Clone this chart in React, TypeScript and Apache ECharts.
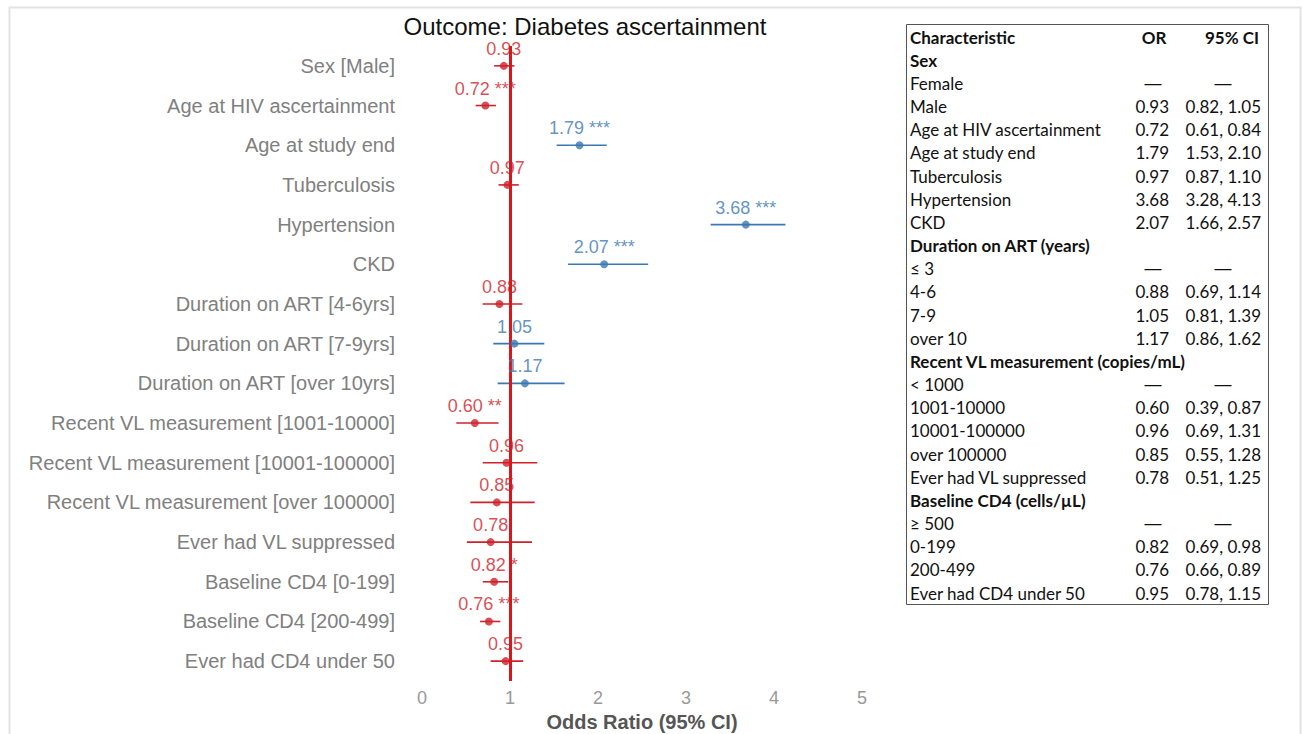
import React, { useEffect, useRef } from "react";
import * as echarts from "echarts";

const categories = [
  "Sex [Male]",
  "Age at HIV ascertainment",
  "Age at study end",
  "Tuberculosis",
  "Hypertension",
  "CKD",
  "Duration on ART [4-6yrs]",
  "Duration on ART [7-9yrs]",
  "Duration on ART [over 10yrs]",
  "Recent VL measurement [1001-10000]",
  "Recent VL measurement [10001-100000]",
  "Recent VL measurement [over 100000]",
  "Ever had VL suppressed",
  "Baseline CD4 [0-199]",
  "Baseline CD4 [200-499]",
  "Ever had CD4 under 50",
];
const oddsRatios = [0.93, 0.72, 1.79, 0.97, 3.68, 2.07, 0.88, 1.05, 1.17, 0.6, 0.96, 0.85, 0.78, 0.82, 0.76, 0.95];
const ciLow = [0.82, 0.61, 1.53, 0.87, 3.28, 1.66, 0.69, 0.81, 0.86, 0.39, 0.69, 0.55, 0.51, 0.69, 0.66, 0.78];
const ciHigh = [1.05, 0.84, 2.1, 1.1, 4.13, 2.57, 1.14, 1.39, 1.62, 0.87, 1.31, 1.28, 1.25, 0.98, 0.89, 1.15];
const stars = ["", "***", "***", "", "***", "***", "", "", "", "**", "", "", "", "*", "***", ""];
const xTicks = [0, 1, 2, 3, 4, 5];

const tableHeader = ["Characteristic", "OR", "95% CI"];
const tableChar = [
  "Sex", "Female", "Male", "Age at HIV ascertainment", "Age at study end", "Tuberculosis",
  "Hypertension", "CKD", "Duration on ART (years)", "≤ 3", "4-6", "7-9", "over 10",
  "Recent VL measurement (copies/mL)", "< 1000", "1001-10000", "10001-100000", "over 100000",
  "Ever had VL suppressed", "Baseline CD4 (cells/µL)", "≥ 500", "0-199", "200-499", "Ever had CD4 under 50",
];
const tableOR = [
  "", "—", "0.93", "0.72", "1.79", "0.97", "3.68", "2.07", "", "—", "0.88", "1.05", "1.17",
  "", "—", "0.60", "0.96", "0.85", "0.78", "", "—", "0.82", "0.76", "0.95",
];
const tableCI = [
  "", "—", "0.82, 1.05", "0.61, 0.84", "1.53, 2.10", "0.87, 1.10", "3.28, 4.13", "1.66, 2.57", "", "—",
  "0.69, 1.14", "0.81, 1.39", "0.86, 1.62", "", "—", "0.39, 0.87", "0.69, 1.31", "0.55, 1.28",
  "0.51, 1.25", "", "—", "0.69, 0.98", "0.66, 0.89", "0.78, 1.15",
];
const tableBold = [
  true, false, false, false, false, false, false, false, true, false, false, false, false,
  true, false, false, false, false, false, true, false, false, false, false,
];

const RED = "#cd222a";
const BLUE = "#3a78b2";
const SANS = "'Liberation Sans', Arial, sans-serif";

export default function App() {
  const ref = useRef<HTMLDivElement>(null);

  useEffect(() => {
    document.body.style.margin = "0";
    if (!ref.current) return;
    const chart = echarts.init(ref.current, undefined, { renderer: "svg" });

    const colorOf = (v: number) => (v > 1 ? BLUE : RED);

    const scatterData = oddsRatios.map((v, i) => {
      const c = colorOf(v);
      return {
        value: [v, categories[i]],
        itemStyle: { color: c },
        label: {
          show: true,
          position: "top",
          distance: 4,
          formatter: stars[i] ? `${v.toFixed(2)} ${stars[i]}` : v.toFixed(2),
          color: c,
          fontSize: 18,
          fontFamily: SANS,
        },
      };
    });

    const barData = oddsRatios.map((v, i) => ({
      value: [ciLow[i], ciHigh[i], i],
      color: colorOf(v),
    }));

    const tableTop = 37;
    const rowH = 23.17;
    const tableFont = "Lato, 'Open Sans', sans-serif";
    const fs = 17;
    const ink = "#111";
    const tableElems: any[] = [];
    tableElems.push({
      type: "rect",
      shape: { x: 906.5, y: 24.5, width: 362, height: 580 },
      style: { fill: "none", stroke: "#555", lineWidth: 1 },
    });
    tableElems.push({
      type: "text", x: 910, y: tableTop,
      style: { text: tableHeader[0], fontSize: fs, fontWeight: "bold", fontFamily: tableFont, fill: ink, verticalAlign: "middle", align: "left" },
    });
    tableElems.push({
      type: "text", x: 1154, y: tableTop,
      style: { text: tableHeader[1], fontSize: fs, fontWeight: "bold", fontFamily: tableFont, fill: ink, verticalAlign: "middle", align: "center" },
    });
    tableElems.push({
      type: "text", x: 1232, y: tableTop,
      style: { text: tableHeader[2], fontSize: fs, fontWeight: "bold", fontFamily: tableFont, fill: ink, verticalAlign: "middle", align: "center" },
    });
    tableChar.forEach((t, k) => {
      const y = tableTop + (k + 1) * rowH;
      tableElems.push({
        type: "text", x: 910, y,
        style: { text: t, fontSize: fs, fontWeight: tableBold[k] ? "bold" : "normal", fontFamily: tableFont, fill: ink, verticalAlign: "middle", align: "left" },
      });
      if (tableOR[k]) {
        const dash = tableOR[k] === "—";
        tableElems.push({
          type: "text", x: dash ? 1153 : 1169, y,
          style: { text: tableOR[k], fontSize: fs, fontFamily: dash ? SANS : tableFont, fill: ink, verticalAlign: "middle", align: dash ? "center" : "right" },
        });
      }
      if (tableCI[k]) {
        const dash = tableCI[k] === "—";
        tableElems.push({
          type: "text", x: dash ? 1223 : 1261, y,
          style: { text: tableCI[k], fontSize: fs, fontFamily: dash ? SANS : tableFont, fill: ink, verticalAlign: "middle", align: dash ? "center" : "right" },
        });
      }
    });

    const option: any = {
      animation: false,
      backgroundColor: "#fff",
      title: {
        text: "Outcome: Diabetes ascertainment",
        left: 580,
        top: 9,
        textAlign: "center",
        textStyle: { fontSize: 24, fontWeight: "normal", color: "#111", fontFamily: SANS },
      },
      grid: { left: 422, right: 441, top: 46, bottom: 53, containLabel: false, outerBoundsMode: "none" },
      xAxis: {
        type: "value",
        min: 0,
        max: 5,
        interval: 1,
        axisLine: { show: false },
        axisTick: { show: false },
        splitLine: { show: false },
        axisLabel: {
          color: "#999",
          fontSize: 18,
          margin: 8,
          fontFamily: SANS,
          formatter: (v: number) => (xTicks.includes(v) ? String(v) : ""),
        },
        name: "Odds Ratio (95% CI)",
        nameLocation: "middle",
        nameGap: 28,
        nameTextStyle: { fontSize: 20, fontWeight: "bold", color: "#555", fontFamily: SANS },
      },
      yAxis: {
        type: "category",
        data: categories,
        inverse: true,
        axisLine: { show: false },
        axisTick: { show: false },
        splitLine: { show: false },
        axisLabel: { color: "#808080", fontSize: 20, margin: 27, fontFamily: SANS },
      },
      graphic: [
        {
          type: "rect",
          shape: { x: 9.5, y: 7.5, width: 1291, height: 760 },
          style: { fill: "none", stroke: "#e3e3e3", lineWidth: 2 },
          z: -10,
        },
        { type: "group", children: tableElems },
      ],
      series: [
        {
          type: "custom",
          data: barData,
          encode: { x: [0, 1], y: 2 },
          renderItem: (params: any, api: any) => {
            const idx = api.value(2);
            const s = api.coord([api.value(0), idx]);
            const e = api.coord([api.value(1), idx]);
            const c = barData[params.dataIndex].color;
            return {
              type: "line",
              shape: { x1: s[0], y1: s[1], x2: e[0], y2: e[1] },
              style: { stroke: c, lineWidth: 1.6 },
            };
          },
          z: 2,
        },
        {
          type: "scatter",
          data: scatterData,
          symbol: "circle",
          symbolSize: 8,
          z: 4,
          markLine: {
            silent: true,
            symbol: "none",
            label: { show: false },
            lineStyle: { color: "#d8161d", width: 3, type: "solid" },
            data: [{ xAxis: 1 }],
            z: 3,
          },
        },
      ],
    };

    chart.setOption(option);
    return () => chart.dispose();
  }, []);

  return <div ref={ref} style={{ width: 1303, height: 734 }} />;
}
